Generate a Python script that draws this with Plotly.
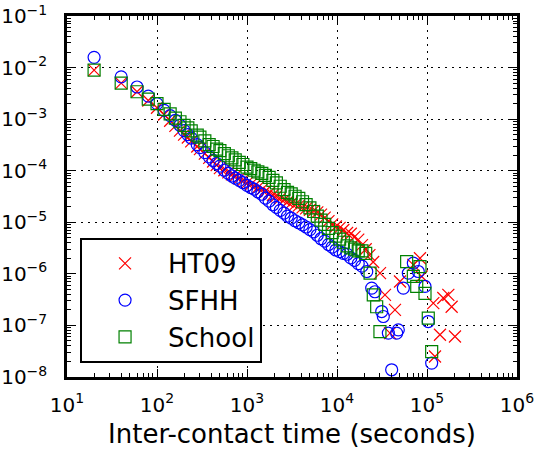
import plotly.graph_objects as go

# ---------------- data ----------------
x_main = [20, 40, 60, 80, 100, 120, 140, 160, 180, 200, 220, 240, 280, 300, 340, 380,
          420, 460, 500, 560, 620, 680, 740, 820, 900, 1000, 1100, 1200, 1320, 1460,
          1600, 1760, 1940, 2120, 2340, 2580, 2820, 3100, 3420, 3760, 4140, 4540, 5000,
          5500, 6040, 6640, 7300, 8040, 8840, 9720, 10700, 11760, 12940, 14240, 15660,
          17220, 18940]

ht09_main = [8.9e-3, 5.0e-3, 3.4e-3, 2.3e-3, 1.66e-3, 1.23e-3, 9.3e-4, 7.4e-4, 6.0e-4,
             5.0e-4, 4.4e-4, 3.7e-4, 2.95e-4, 2.63e-4, 2.14e-4, 1.78e-4, 1.51e-4, 1.29e-4,
             1.12e-4, 1.02e-4, 9.3e-5, 8.5e-5, 7.9e-5, 7.1e-5, 6.5e-5, 5.8e-5, 5.4e-5,
             5.0e-5, 4.7e-5, 4.3e-5, 4.0e-5, 3.7e-5, 3.4e-5, 3.2e-5, 2.9e-5, 2.7e-5,
             2.5e-5, 2.35e-5, 2.2e-5, 2.1e-5, 1.95e-5, 1.86e-5, 1.75e-5, 1.66e-5, 1.56e-5,
             1.41e-5, 1.23e-5, 1.05e-5, 9.1e-6, 8.3e-6, 7.8e-6, 7.1e-6, 6.2e-6, 6.0e-6,
             5.2e-6, 4.6e-6, 3.6e-6]
ht09_tail_x = [20840, 22920, 25220, 30060, 34120, 38820, 44060, 50120, 70470, 83560,
               87300, 117500, 122700, 139300, 151700, 172600, 187900, 204600]
ht09_tail_y = [3.0e-6, 2.3e-6, 1.7e-6, 1.03e-6, 3.9e-7, 7.1e-8, 2.0e-7, 7.1e-7, 1.49e-6,
               2.01e-6, 8.9e-7, 2.7e-7, 2.5e-8, 6.6e-8, 3.4e-7, 3.9e-7, 2.3e-7, 6.1e-8]

sfhh_main = [1.58e-2, 6.6e-3, 4.2e-3, 2.8e-3, 2.0e-3, 1.48e-3, 1.17e-3, 9.5e-4, 7.6e-4,
             6.0e-4, 5.0e-4, 4.3e-4, 3.2e-4, 2.8e-4, 2.24e-4, 1.86e-4, 1.58e-4, 1.38e-4,
             1.23e-4, 1.02e-4, 8.9e-5, 7.9e-5, 7.2e-5, 6.5e-5, 5.9e-5, 5.2e-5, 4.7e-5,
             4.4e-5, 3.9e-5, 3.5e-5, 2.95e-5, 2.57e-5, 2.19e-5, 1.95e-5, 1.70e-5, 1.51e-5,
             1.32e-5, 1.20e-5, 1.07e-5, 9.8e-6, 8.9e-6, 8.1e-6, 7.2e-6, 6.5e-6, 5.6e-6,
             4.8e-6, 4.3e-6, 3.7e-6, 3.3e-6, 2.9e-6, 2.7e-6, 2.5e-6, 2.4e-6, 2.04e-6,
             1.82e-6, 1.58e-6, 1.41e-6]
sfhh_tail_x = [21400, 24300, 26400, 31400, 32700, 37200, 40500, 46000, 48000, 54600,
               62000, 70500, 80000, 95000, 103300, 112700]
sfhh_tail_y = [1.11e-6, 5.3e-7, 4.5e-7, 1.86e-7, 1.49e-7, 7.1e-8, 1.38e-8, 7.1e-8, 8.2e-8,
               5.3e-7, 1.03e-6, 1.61e-6, 1.11e-6, 5.7e-7, 1.19e-7, 1.86e-8]

school_main = [8.9e-3, 5.0e-3, 3.4e-3, 2.45e-3, 2.0e-3, 1.55e-3, 1.26e-3, 1.05e-3, 8.9e-4,
               7.6e-4, 6.8e-4, 5.9e-4, 4.9e-4, 4.5e-4, 3.8e-4, 3.2e-4, 2.95e-4, 2.63e-4,
               2.45e-4, 2.14e-4, 1.95e-4, 1.78e-4, 1.62e-4, 1.45e-4, 1.32e-4, 1.17e-4,
               1.10e-4, 1.02e-4, 9.5e-5, 8.9e-5, 8.1e-5, 7.4e-5, 6.5e-5, 5.8e-5, 5.0e-5,
               4.3e-5, 3.8e-5, 3.55e-5, 3.2e-5, 2.9e-5, 2.5e-5, 2.2e-5, 1.9e-5, 1.62e-5,
               1.32e-5, 1.1e-5, 9.1e-6, 7.6e-6, 6.3e-6, 5.4e-6, 4.7e-6, 4.1e-6, 3.5e-6,
               3.2e-6, 3.0e-6, 2.8e-6, 2.8e-6]
school_tail_x = [20840, 23300, 25300, 27600, 30000, 59400, 70500, 76900, 83600, 95000,
                 103300, 112700]
school_tail_y = [2.5e-6, 1.03e-6, 3.9e-7, 2.3e-7, 7.6e-8, 1.73e-6, 8.9e-7, 5.7e-7, 1.38e-6,
                 4.2e-7, 1.38e-7, 3.1e-8]

x_tickvals = [1e1, 1e2, 1e3, 1e4, 1e5, 1e6]
x_ticktext = ["10<sup>1</sup>", "10<sup>2</sup>", "10<sup>3</sup>", "10<sup>4</sup>",
              "10<sup>5</sup>", "10<sup>6</sup>"]
y_tickvals = [1e-8, 1e-7, 1e-6, 1e-5, 1e-4, 1e-3, 1e-2, 1e-1]
y_ticktext = ["10<sup>\u22128</sup>", "10<sup>\u22127</sup>", "10<sup>\u22126</sup>",
              "10<sup>\u22125</sup>", "10<sup>\u22124</sup>", "10<sup>\u22123</sup>",
              "10<sup>\u22122</sup>", "10<sup>\u22121</sup>"]

series = [
    ("HT09", x_main + ht09_tail_x, ht09_main + ht09_tail_y, "x-thin-open", "#ff0000"),
    ("SFHH", x_main + sfhh_tail_x, sfhh_main + sfhh_tail_y, "circle-open", "#0000ff"),
    ("School", x_main + school_tail_x, school_main + school_tail_y, "square-open", "#008000"),
]

fig = go.Figure()
for name, xs, ys, sym, col in series:
    fig.add_trace(go.Scatter(
        x=xs, y=ys, mode="markers", name=name,
        marker=dict(symbol=sym, size=12, color=col, line=dict(color=col, width=1.2)),
    ))

axis_common = dict(
    type="log", showline=True, linecolor="black", linewidth=2.5, mirror="allticks",
    ticks="inside", ticklen=8, tickwidth=1, tickcolor="black",
    showgrid=True, gridcolor="black", gridwidth=1, griddash="2px,5px",
    zeroline=False, tickmode="array", automargin=False, ticklabeloverflow="allow",
    tickfont=dict(family="DejaVu Sans", size=20, color="black"),
    minor=dict(ticks="inside", ticklen=4, tickcolor="black", tickwidth=1,
               dtick="D1", showgrid=False),
)

fig.update_xaxes(**axis_common, range=[1, 6], tickvals=x_tickvals, ticktext=x_ticktext,
                 ticklabelstandoff=8,
                 title=dict(text="Inter-contact time (seconds)",
                            font=dict(family="DejaVu Sans", size=26, color="black"),
                            standoff=10))
fig.update_yaxes(**axis_common, range=[-8, -1], tickvals=y_tickvals, ticktext=y_ticktext,
                 ticklabelstandoff=13)

fig.update_layout(
    width=534, height=451,
    margin=dict(l=67, r=17, t=16, b=74),
    paper_bgcolor="white", plot_bgcolor="white",
    font=dict(family="DejaVu Sans", color="black"),
    legend=dict(x=0.029, y=0.039, xanchor="left", yanchor="bottom",
                bgcolor="white", bordercolor="black", borderwidth=2,
                font=dict(family="DejaVu Sans", size=26, color="black"),
                itemwidth=76),
)

# remove the browser's default 8px page margin so the figure fills the window exactly
fig.write_html("out.html", config={"displayModeBar": False},
               post_script="document.body.style.margin='0';")
